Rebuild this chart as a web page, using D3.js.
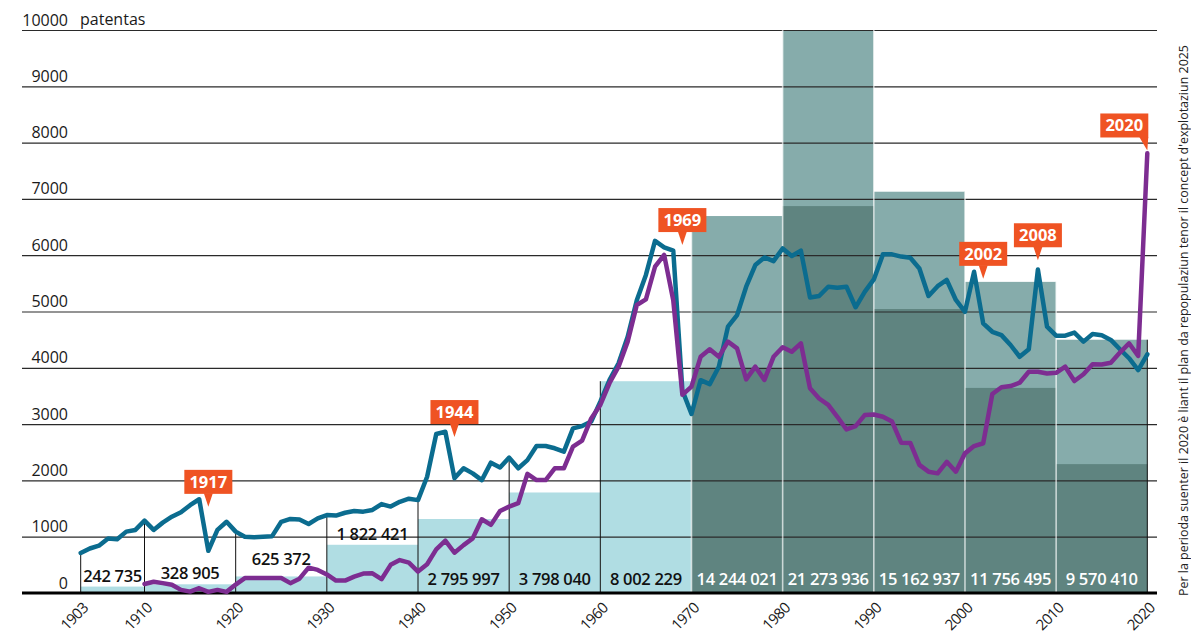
<!DOCTYPE html>
<html><head><meta charset="utf-8">
<script src="https://cdn.jsdelivr.net/npm/d3@7/dist/d3.min.js"></script>
<style>
html,body{margin:0;padding:0;background:#fff;}
svg{display:block;font-family:"Open Sans","Noto Sans",sans-serif;}
</style></head>
<body>
<svg id="chart" width="1191" height="633"></svg>
<script>
// ---------- DATA ----------
const decadeStarts = [1903,1910,1920,1930,1940,1950,1960,1970,1980,1990,2000,2010];
const decadeEnds   = [1910,1920,1930,1940,1950,1960,1970,1980,1990,2000,2010,2020];
const barValues    = [242735,328905,625372,1822421,2795997,3798040,8002229,14244021,21273936,15162937,11756495,9570410];
const barLabels    = ["242 735","328 905","625 372","1 822 421","2 795 997","3 798 040","8 002 229","14 244 021","21 273 936","15 162 937","11 756 495","9 570 410"];
const barInnerValues = [null,null,null,null,null,null,null,8500000,14620000,10730000,7750000,4870000];

const blueStart = 1903;
const blueValues = [710,790,840,970,955,1090,1120,1285,1120,1250,1355,1435,1560,1665,750,1120,1265,1090,1000,990,
 1000,1010,1265,1315,1305,1225,1325,1385,1375,1425,1455,1445,1475,1580,1535,1620,1675,1650,2065,2825,
 2865,2040,2215,2125,2005,2315,2230,2405,2215,2360,2610,2610,2570,2510,2925,2965,3045,3400,3780,4080,
 4550,5200,5650,6255,6140,6080,3600,3180,3780,3710,4020,4730,4935,5440,5825,5960,5895,6120,5985,6080,
 5250,5275,5440,5420,5440,5075,5350,5570,6015,6015,5975,5955,5765,5275,5450,5560,5205,4995,5705,4790,
 4640,4580,4405,4195,4330,5745,4730,4570,4570,4625,4465,4600,4580,4495,4330,4170,3960,4240];

const purpleStart = 1910;
const purpleValues = [160,200,175,145,55,25,85,20,55,20,150,265,265,265,265,265,175,255,450,410,
 330,220,220,290,345,350,245,500,585,540,380,510,775,930,715,850,970,1310,1210,1455,
 1535,1595,2115,2005,2005,2215,2215,2600,2705,3100,3340,3725,4020,4465,5115,5215,5795,6005,5200,3520,
 3665,4195,4330,4195,4465,4345,3795,4020,3785,4195,4365,4285,4435,3635,3455,3340,3130,2905,2965,3160,
 3170,3130,3045,2670,2665,2275,2155,2125,2330,2155,2480,2610,2660,3535,3655,3675,3735,3930,3930,3900,
 3910,4020,3765,3885,4065,4060,4090,4270,4435,4210,7810];

const xTickYears = [1903,1910,1920,1930,1940,1950,1960,1970,1980,1990,2000,2010,2020];
const yTicks = [0,1000,2000,3000,4000,5000,6000,7000,8000,9000,10000];
const yUnit = "patentas";
const calloutYears  = [1917,1944,1969,2002,2008,2020];
const calloutValues = [1530,2770,6180,5580,5910,7860];
const sideNote = "Per la perioda suenter il 2020 è liant il plan da repopulaziun tenor il concept d'explotaziun 2025";

// ---------- LAYOUT ----------
const svg = d3.select("#chart");
const gridLeft = 22, gridRight = 1157;
const x = d3.scaleLinear().domain([1903, 2020]).range([80.7, 1147.3]);
const y = d3.scaleLinear().domain([0, 10000]).range([593, 30]);
const yBar = d3.scaleLinear().domain([0, 21273936]).range([593, 30]);

const C = {
  light: "#b0dde3", mid: "#86acab", dark: "#5f8480",
  blue: "#0b6c8f", purple: "#7d2d91", orange: "#ef5323", grid: "#2a2a2a"
};

const bars = decadeStarts.map((s, i) => ({s, e: decadeEnds[i], v: barValues[i], inner: barInnerValues[i], label: barLabels[i]}));

// bars
svg.append("g").selectAll("rect").data(bars).join("rect")
  .attr("x", d => x(d.s)).attr("width", d => x(d.e) - x(d.s))
  .attr("y", d => yBar(d.v)).attr("height", d => yBar(0) - yBar(d.v))
  .attr("fill", d => d.s >= 1970 ? C.mid : C.light);
svg.append("g").selectAll("rect").data(bars.filter(d => d.inner != null)).join("rect")
  .attr("x", d => x(d.s)).attr("width", d => x(d.e) - x(d.s))
  .attr("y", d => yBar(d.inner)).attr("height", d => yBar(0) - yBar(d.inner))
  .attr("fill", C.dark);

// y grid via axis
const yAxis = svg.append("g").attr("transform", `translate(${gridRight},0)`)
  .call(d3.axisLeft(y).tickValues(yTicks).tickSize(gridRight - gridLeft).tickFormat(d3.format("d")));
yAxis.select(".domain").remove();
yAxis.selectAll(".tick line").attr("stroke", C.grid).attr("stroke-width", 1.2);
yAxis.selectAll(".tick text")
  .attr("x", 68 - gridRight).attr("dy", -5).attr("text-anchor", "end")
  .attr("fill", "#1a1a1a").attr("font-size", 16).attr("font-family", "Open Sans, sans-serif")
  .attr("font-weight", 400);
svg.append("text").attr("x", 80).attr("y", y(10000) - 5)
  .attr("font-size", 16).attr("fill", "#1a1a1a").text(yUnit);

// vertical separators
function valAt(arr, start, yr) { const i = yr - start; return (i >= 0 && i < arr.length) ? arr[i] : 0; }
const seps = decadeStarts.concat([2020]).map(b => {
  const adj = bars.filter(d => d.s === b || d.e === b).map(d => y.invert(yBar(d.v)));
  const top = Math.max(valAt(blueValues, blueStart, b), ...adj);
  return {b, top};
});
svg.append("g").selectAll("line").data(seps).join("line")
  .attr("x1", d => x(d.b)).attr("x2", d => x(d.b))
  .attr("y1", y(0)).attr("y2", d => y(d.top))
  .attr("stroke", d => (d.b >= 1970 && d.b < 2020) ? "rgba(255,255,255,0.65)" : "#111")
  .attr("stroke-width", d => (d.b >= 1970 && d.b < 2020) ? 1.6 : 1);

// baseline
svg.append("line").attr("x1", gridLeft).attr("x2", gridRight).attr("y1", y(0)).attr("y2", y(0))
  .attr("stroke", "#000").attr("stroke-width", 3);

// bar labels
const lift = {1920: 11};
svg.append("g").selectAll("text").data(bars).join("text")
  .attr("x", d => (x(d.s) + x(d.e)) / 2)
  .attr("y", d => {
    const top = yBar(d.v);
    if (y(0) - top < 60) return top - (lift[d.s] || 5);
    return 585;
  })
  .attr("text-anchor", "middle").attr("font-size", 16.5).attr("font-weight", 600)
  .attr("fill", d => d.s >= 1970 ? "#fff" : "#111")
  .attr("letter-spacing", -0.3)
  .text(d => d.label);

// lines
const line = d3.line().x(d => x(d.yr)).y(d => y(d.v)).curve(d3.curveLinear);
const blueData = blueValues.map((v, i) => ({yr: blueStart + i, v}));
const purpleData = purpleValues.map((v, i) => ({yr: purpleStart + i, v}));
svg.append("path").datum(blueData).attr("d", line).attr("fill", "none")
  .attr("stroke", C.blue).attr("stroke-width", 4.5).attr("stroke-linejoin", "round").attr("stroke-linecap", "round");
svg.append("path").datum(purpleData).attr("d", line).attr("fill", "none")
  .attr("stroke", C.purple).attr("stroke-width", 4.5).attr("stroke-linejoin", "round").attr("stroke-linecap", "round");

// callouts
const cg = svg.append("g");
calloutYears.forEach((yr, i) => {
  const tx = x(yr), ty = y(calloutValues[i]);
  const w = 48, h = 24, th = 13;
  const rightAligned = yr === 2020;
  const bx = rightAligned ? tx - w + 1 : tx - w / 2;
  const by = ty - th - h;
  const g = cg.append("g");
  g.append("rect").attr("x", bx).attr("y", by).attr("width", w).attr("height", h).attr("fill", C.orange);
  if (rightAligned) {
    g.append("path").attr("d", `M${tx - 8},${by + h - 0.5} L${tx + 1},${by + h - 0.5} L${tx},${ty} Z`).attr("fill", C.orange);
  } else {
    g.append("path").attr("d", `M${tx - 4.5},${by + h - 0.5} L${tx + 4.5},${by + h - 0.5} L${tx},${ty} Z`).attr("fill", C.orange);
  }
  g.append("text").attr("x", bx + w / 2).attr("y", by + h - 6)
    .attr("text-anchor", "middle").attr("fill", "#fff").attr("font-size", 16.5).attr("font-weight", 700)
    .text(yr);
});

// x axis labels
const xAxis = svg.append("g").attr("transform", `translate(0,${y(0)})`)
  .call(d3.axisBottom(x).tickValues(xTickYears).tickSize(0).tickFormat(d3.format("d")));
xAxis.select(".domain").remove();
xAxis.selectAll(".tick text")
  .attr("font-size", 15).attr("letter-spacing", -0.7).attr("fill", "#1a1a1a").attr("font-family", "Open Sans, sans-serif")
  .attr("text-anchor", "end").attr("dy", 0).attr("y", 0)
  .attr("transform", "translate(8,16) rotate(-45)");

// side note
svg.append("text").attr("transform", "translate(1188,596) rotate(-90)")
  .attr("font-size", 12.5).attr("fill", "#222")
  .attr("textLength", 551).attr("lengthAdjust", "spacingAndGlyphs")
  .text(sideNote);
</script>
</body></html>
